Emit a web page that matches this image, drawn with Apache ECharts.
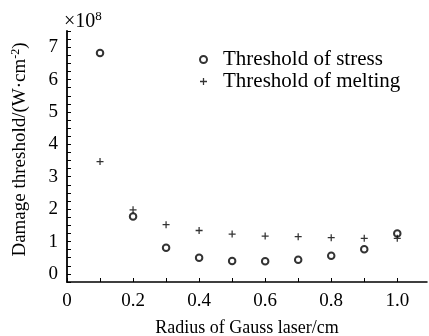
<!DOCTYPE html>
<html><head><meta charset="utf-8">
<script src="https://cdn.jsdelivr.net/npm/echarts@6/dist/echarts.min.js"></script>
<style>html,body{margin:0;padding:0;background:#fff}#c{width:429px;height:336px}</style>
</head><body><div id="c"></div>
<script>
var radius = [0.1, 0.2, 0.3, 0.4, 0.5, 0.6, 0.7, 0.8, 0.9, 1.0];
var stress = [6.82, 1.77, 0.81, 0.50, 0.40, 0.39, 0.44, 0.56, 0.76, 1.25];
var melting = [3.47, 1.98, 1.52, 1.34, 1.23, 1.17, 1.15, 1.12, 1.10, 1.10];
var xLabels = [0, 0.2, 0.4, 0.6, 0.8, 1.0];
var xTicks = [0, 0.1, 0.2, 0.3, 0.4, 0.5, 0.6, 0.7, 0.8, 0.9, 1.0];
var yLabels = [0, 1, 2, 3, 4, 5, 6, 7];
var yTicks = [];
for (var i = -1; i <= 30; i++) yTicks.push(i * 0.25);

var F = 'Liberation Serif, Times New Roman, serif';
var plus = 'path://M4.1,0 H5.9 V4.1 H10 V5.9 H5.9 V10 H4.1 V5.9 H0 V4.1 H4.1 Z';
var chart = echarts.init(document.getElementById('c'));
chart.setOption({
  animation: false,
  grid: {left: 67, right: 2, top: 31, bottom: 54, outerBoundsMode: 'none', containLabel: false},
  legend: {
    left: 194, top: 44, orient: 'vertical', itemGap: 1, itemWidth: 7, itemHeight: 7,
    textStyle: {fontFamily: F, fontSize: 21, lineHeight: 20, color: '#000', padding: [0, 0, 0, 11]},
    data: ['Threshold of stress', 'Threshold of melting']
  },
  graphic: [{
    type: 'text', left: 64, top: 10,
    style: {text: '×10{s|8}', fontFamily: F, fontSize: 20, fill: '#000',
      rich: {s: {fontFamily: F, fontSize: 13, verticalAlign: 'top', padding: [0,0,10,0]}}}
  }],
  xAxis: {
    type: 'value', min: 0, max: 1.09,
    name: 'Radius of Gauss laser/cm', nameLocation: 'middle', nameGap: 37,
    nameTextStyle: {fontFamily: F, fontSize: 18, color: '#000'},
    axisLine: {onZero: false, lineStyle: {color: '#000', width: 1.5}},
    axisTick: {inside: true, length: 4, customValues: xTicks, lineStyle: {color: '#000'}},
    axisLabel: {customValues: xLabels, margin: 10, fontFamily: F, fontSize: 19, color: '#000',
      formatter: function (v) { return v === 0 ? '0' : v.toFixed(1); }},
    splitLine: {show: false}
  },
  yAxis: {
    type: 'value', min: -0.25, max: 7.5,
    name: 'Damage threshold/(W·cm{s|-2})', nameLocation: 'middle', nameGap: 36,
    nameTextStyle: {fontFamily: F, fontSize: 19, color: '#000', padding: [0, 0, 0, 14],
      rich: {s: {fontFamily: F, fontSize: 12, verticalAlign: 'top', padding: [0,0,9,0]}}},
    axisLine: {onZero: false, lineStyle: {color: '#000', width: 1.8}},
    axisTick: {inside: true, length: 4, customValues: yTicks, lineStyle: {color: '#000'}},
    axisLabel: {customValues: yLabels, margin: 9, fontFamily: F, fontSize: 19, color: '#000'},
    splitLine: {show: false}
  },
  series: [{
    name: 'Threshold of stress', type: 'scatter', symbol: 'emptyCircle', symbolSize: 6.5,
    itemStyle: {color: '#000', borderWidth: 1},
    data: radius.map(function (x, i) { return [x, stress[i]]; })
  }, {
    name: 'Threshold of melting', type: 'scatter', symbol: plus, symbolSize: 7,
    itemStyle: {color: '#000'},
    data: radius.map(function (x, i) { return [x, melting[i]]; })
  }]
});
</script></body></html>
